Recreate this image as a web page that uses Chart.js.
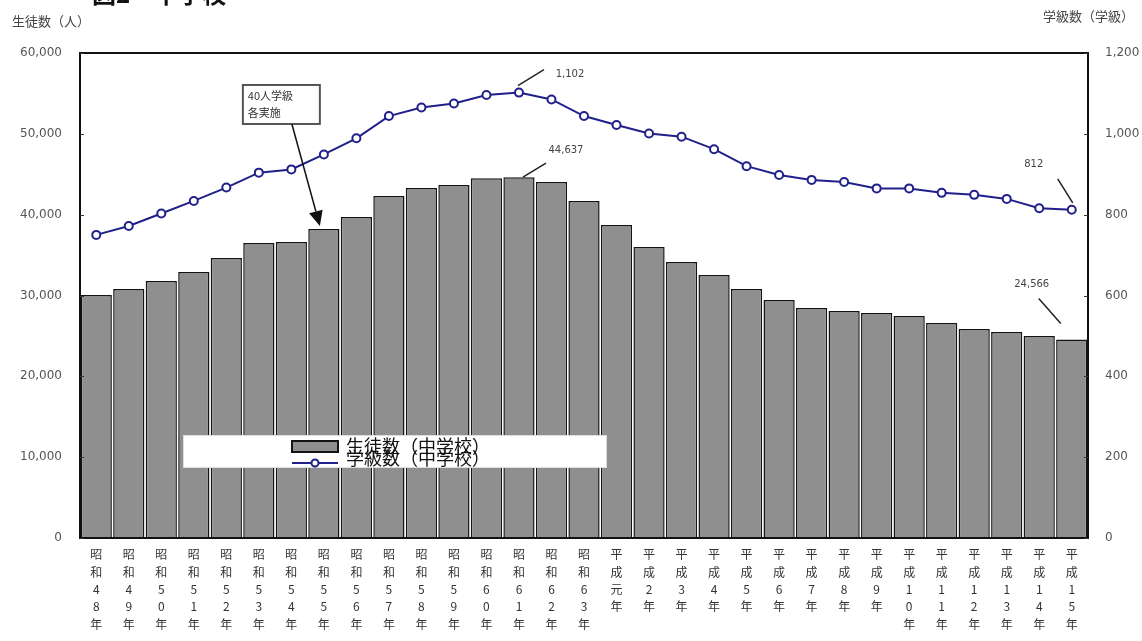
<!DOCTYPE html>
<html lang="ja">
<head>
<meta charset="utf-8">
<title>中学校 生徒数・学級数の推移</title>
<script src="https://cdn.jsdelivr.net/npm/chart.js@4.4.1/dist/chart.umd.min.js"></script>
<style>
  html, body { margin: 0; padding: 0; background: #ffffff; }
  #wrap { position: relative; width: 1142px; height: 641px; }
  canvas { display: block; }
</style>
</head>
<body>
<div id="wrap"><canvas id="chart" width="1142" height="641"></canvas></div>
<script>
// 年度（縦書きラベル用に1文字ずつ分割して使う）
const years = [
  '昭和48年','昭和49年','昭和50年','昭和51年','昭和52年','昭和53年','昭和54年','昭和55年',
  '昭和56年','昭和57年','昭和58年','昭和59年','昭和60年','昭和61年','昭和62年','昭和63年',
  '平成元年','平成2年','平成3年','平成4年','平成5年','平成6年','平成7年','平成8年',
  '平成9年','平成10年','平成11年','平成12年','平成13年','平成14年','平成15年'
];

// 生徒数（中学校）［人］
const students = [
  30060, 30800, 31800, 32900, 34640, 36500, 36620, 38230,
  39710, 42300, 43300, 43670, 44500, 44637, 44040, 41690,
  38720, 36000, 34150, 32540, 30800, 29440, 28450, 28080,
  27840, 27470, 26600, 25860, 25490, 25000, 24566
];

// 学級数（中学校）［学級］
const classes = [
  750, 772, 803, 834, 867, 904, 912, 949,
  989, 1044, 1065, 1075, 1096, 1102, 1085, 1044,
  1022, 1001, 993, 962, 920, 898, 886, 881,
  865, 865, 854, 849, 839, 816, 812
];

// 目盛
const studentTicks = [0, 10000, 20000, 30000, 40000, 50000, 60000];
const classTicks = [0, 200, 400, 600, 800, 1000, 1200];

const seriesNames = ['生徒数（中学校）', '学級数（中学校）'];
const axisTitles = ['生徒数（人）', '学級数（学級）'];
const heading = '図2　中学校';
const noteLines = ['40人学級', '各実施'];
const noteIndex = years.indexOf('昭和55年');
const peakIndex = students.indexOf(Math.max(...students));
const lastIndex = years.length - 1;

const fmt = v => Number(v).toLocaleString('en-US');

const BAR_FILL = '#8f8f8f';
const BAR_EDGE = '#141414';
const LINE = '#20208a';
const CJK = '"Noto Sans CJK JP", "Noto Sans", sans-serif';
const NUM = '"DejaVu Sans", "Liberation Sans", sans-serif';

// 枠・目盛線・注記・凡例を描くプラグイン
const decorations = {
  id: 'decorations',
  afterDatasetsDraw(chart) {
    const { ctx, chartArea: a, scales } = chart;
    const barMeta = chart.getDatasetMeta(1);
    const lineMeta = chart.getDatasetMeta(0);

    ctx.save();
    // プロット枠
    ctx.strokeStyle = '#111';
    ctx.lineWidth = 2;
    ctx.strokeRect(a.left, a.top, a.right - a.left, a.bottom - a.top);

    // 内向きの目盛線
    ctx.lineWidth = 1;
    ctx.strokeStyle = '#333';
    studentTicks.forEach(t => {
      const y = Math.round(scales.y.getPixelForValue(t)) + 0.5;
      ctx.beginPath(); ctx.moveTo(a.left, y); ctx.lineTo(a.left + 4, y); ctx.stroke();
    });
    classTicks.forEach(t => {
      const y = Math.round(scales.y1.getPixelForValue(t)) + 0.5;
      ctx.beginPath(); ctx.moveTo(a.right - 4, y); ctx.lineTo(a.right, y); ctx.stroke();
    });

    // 引出し線つき数値ラベル
    const callout = (pt, text, tdx, tdy, l1, l2) => {
      ctx.strokeStyle = '#222';
      ctx.lineWidth = 1.5;
      ctx.beginPath();
      ctx.moveTo(pt.x + l1[0], pt.y + l1[1]);
      ctx.lineTo(pt.x + l2[0], pt.y + l2[1]);
      ctx.stroke();
      ctx.fillStyle = '#444';
      ctx.font = '10px ' + NUM;
      ctx.textAlign = 'center';
      ctx.textBaseline = 'middle';
      ctx.fillText(text, pt.x + tdx, pt.y + tdy);
    };
    const lp = lineMeta.data[peakIndex];
    const bp = barMeta.data[peakIndex];
    const ll = lineMeta.data[lastIndex];
    const bl = barMeta.data[lastIndex];
    callout({ x: lp.x, y: lp.y }, fmt(classes[peakIndex]), 51, -18, [25, -23], [-1, -7]);
    callout({ x: bp.x, y: bp.y }, fmt(students[peakIndex]), 47, -27, [27, -14], [4, 0]);
    callout({ x: ll.x, y: ll.y }, fmt(classes[lastIndex]), -38, -45, [-14, -31], [1, -7]);
    callout({ x: bl.x, y: bl.y }, fmt(students[lastIndex]), -40, -55, [-33, -41], [-11, -16]);

    // 40人学級の注記と矢印
    const nb = barMeta.data[noteIndex];
    const tip = { x: nb.x - 4, y: nb.y - 3 };
    const bx = tip.x - 77, by = tip.y - 141, bw = 77, bh = 39;
    ctx.fillStyle = '#fff';
    ctx.fillRect(bx, by, bw, bh);
    ctx.strokeStyle = '#555';
    ctx.lineWidth = 2;
    ctx.strokeRect(bx, by, bw, bh);
    ctx.fillStyle = '#333';
    ctx.font = '11px ' + CJK;
    ctx.textAlign = 'left';
    ctx.textBaseline = 'middle';
    ctx.fillText(noteLines[0], bx + 5, by + 11);
    ctx.fillText(noteLines[1], bx + 5, by + 28);

    const sx = tip.x - 28, sy = by + bh;
    const ang = Math.atan2(tip.y - sy, tip.x - sx);
    const hl = 15, hw = 7;
    const baseX = tip.x - hl * Math.cos(ang), baseY = tip.y - hl * Math.sin(ang);
    ctx.strokeStyle = '#111';
    ctx.lineWidth = 1.5;
    ctx.beginPath(); ctx.moveTo(sx, sy); ctx.lineTo(baseX, baseY); ctx.stroke();
    ctx.fillStyle = '#111';
    ctx.beginPath();
    ctx.moveTo(tip.x, tip.y);
    ctx.lineTo(baseX + hw * Math.sin(ang), baseY - hw * Math.cos(ang));
    ctx.lineTo(baseX - hw * Math.sin(ang), baseY + hw * Math.cos(ang));
    ctx.closePath();
    ctx.fill();

    // 凡例（プロット内の白帯）
    const gx = a.left + 103, gy = a.top + 382, gw = 424, gh = 33;
    ctx.fillStyle = '#fff';
    ctx.fillRect(gx, gy, gw, gh);
    ctx.strokeStyle = '#ddd';
    ctx.lineWidth = 1;
    ctx.strokeRect(gx + 0.5, gy + 0.5, gw - 1, gh - 1);
    const swx = gx + 109, sww = 46;
    ctx.fillStyle = BAR_FILL;
    ctx.fillRect(swx, gy + 6, sww, 11);
    ctx.strokeStyle = BAR_EDGE;
    ctx.lineWidth = 2;
    ctx.strokeRect(swx, gy + 6, sww, 11);
    ctx.strokeStyle = LINE;
    ctx.lineWidth = 2;
    ctx.beginPath(); ctx.moveTo(swx, gy + 28); ctx.lineTo(swx + sww, gy + 28); ctx.stroke();
    ctx.fillStyle = '#fff';
    ctx.beginPath(); ctx.arc(swx + sww / 2, gy + 28, 3.5, 0, Math.PI * 2); ctx.fill();
    ctx.stroke();
    ctx.fillStyle = '#111';
    ctx.font = '18px ' + CJK;
    ctx.textAlign = 'left';
    ctx.textBaseline = 'middle';
    ctx.fillText(seriesNames[0], swx + sww + 8, gy + 11);
    ctx.fillText(seriesNames[1], swx + sww + 8, gy + 23);

    // 軸タイトルと見出し
    ctx.fillStyle = '#444';
    ctx.font = '13px ' + CJK;
    ctx.textBaseline = 'middle';
    ctx.textAlign = 'left';
    ctx.fillText(axisTitles[0], 12, 21);
    ctx.textAlign = 'right';
    ctx.fillText(axisTitles[1], 1134, 16);
    ctx.fillStyle = '#111';
    ctx.font = 'bold 24px ' + CJK;
    ctx.textAlign = 'left';
    ctx.textBaseline = 'alphabetic';
    ctx.fillText(heading, 92, 3);
    ctx.restore();
  }
};

const ctx = document.getElementById('chart').getContext('2d');
new Chart(ctx, {
  type: 'bar',
  data: {
    labels: years.map(y => Array.from(y)),
    datasets: [
      {
        type: 'line',
        label: seriesNames[1],
        data: classes,
        yAxisID: 'y1',
        order: 0,
        borderColor: LINE,
        borderWidth: 2,
        pointStyle: 'circle',
        pointRadius: 4,
        pointBorderWidth: 2,
        pointBackgroundColor: '#ffffff',
        pointBorderColor: LINE,
        tension: 0
      },
      {
        type: 'bar',
        label: seriesNames[0],
        data: students,
        yAxisID: 'y',
        order: 1,
        backgroundColor: BAR_FILL,
        borderColor: BAR_EDGE,
        borderWidth: 1.5,
        barPercentage: 0.96,
        categoryPercentage: 1
      }
    ]
  },
  options: {
    responsive: false,
    animation: false,
    layout: { padding: { top: 53, left: 0, right: 0, bottom: 0 } },
    plugins: {
      legend: { display: false },
      tooltip: { enabled: false },
      title: { display: false }
    },
    scales: {
      x: {
        grid: { display: false, drawTicks: false },
        border: { display: false },
        ticks: {
          color: '#333',
          font: { family: CJK, size: 12, lineHeight: 1.45 },
          maxRotation: 0,
          minRotation: 0,
          autoSkip: false,
          padding: 8
        },
        afterFit(s) { s.height = 103; }
      },
      y: {
        position: 'left',
        min: 0,
        max: 60000,
        grid: { display: false, drawTicks: false },
        border: { display: false },
        afterBuildTicks(s) { s.ticks = studentTicks.map(v => ({ value: v })); },
        ticks: {
          color: '#555',
          font: { family: NUM, size: 12 },
          padding: 18,
          callback: v => fmt(v)
        },
        afterFit(s) { s.width = 80; }
      },
      y1: {
        position: 'right',
        min: 0,
        max: 1200,
        grid: { display: false, drawTicks: false },
        border: { display: false },
        afterBuildTicks(s) { s.ticks = classTicks.map(v => ({ value: v })); },
        ticks: {
          color: '#555',
          font: { family: NUM, size: 12 },
          padding: 17,
          callback: v => fmt(v)
        },
        afterFit(s) { s.width = 54; }
      }
    }
  },
  plugins: [decorations]
});
</script>
</body>
</html>
